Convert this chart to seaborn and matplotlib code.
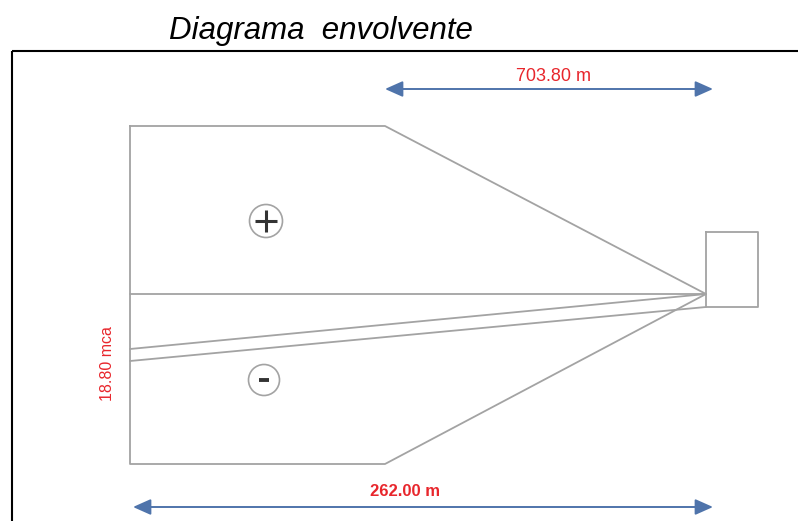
import matplotlib
matplotlib.use("Agg")
import matplotlib.pyplot as plt
from matplotlib.patches import Rectangle, Circle
import seaborn as sns

sns.set_theme(style="white")
plt.rcParams['font.family'] = ['Liberation Sans', 'DejaVu Sans']

# textos / valores del diagrama
title = "Diagrama  envolvente"
len_upper = "703.80 m"
len_lower = "262.00 m"
head_label = "18.80 mca"

# geometria del esquema (coordenadas de dibujo)
env_x = [130, 385, 706, 385, 130, 130]
env_y = [126, 126, 294, 464, 464, 126]
axis_x = [130, 706]
axis_y = [294, 294]
hgl1_x = [130, 706]
hgl1_y = [349, 294]
hgl2_x = [130, 706]
hgl2_y = [361, 307]
tank_x = [706, 758, 758, 706, 706]
tank_y = [232, 232, 307, 307, 232]
upper_arrow_x = [385, 713]
lower_arrow_x = [133, 713]

gray = '#a3a3a3'
blue = '#4f74ab'
red = '#e8262c'

fig = plt.figure(figsize=(7.98, 5.21), dpi=100)
ax = fig.add_axes([0, 0, 1, 1])
ax.set_xlim(0, 798)
ax.set_ylim(521, 0)
ax.axis('off')

# marco
ax.add_patch(Rectangle((12, 51), 820, 520, fill=False, ec='black', lw=1.5))

for xs, ys in [(env_x, env_y), (axis_x, axis_y), (hgl1_x, hgl1_y),
               (hgl2_x, hgl2_y), (tank_x, tank_y)]:
    sns.lineplot(x=xs, y=ys, sort=False, estimator=None, color=gray, lw=1.3, ax=ax)

# signos
ax.add_patch(Circle((266, 221), 16.5, fill=False, ec=gray, lw=1.2))
ax.plot([255, 277], [221, 221], color='#333333', lw=2.2, solid_capstyle='butt')
ax.plot([266, 266], [210, 232], color='#333333', lw=2.2, solid_capstyle='butt')
ax.add_patch(Circle((264, 380), 15.5, fill=False, ec=gray, lw=1.2))
ax.plot([259, 269], [380, 380], color='#333333', lw=2.8, solid_capstyle='butt')

# cotas
arrow = dict(arrowstyle='<|-|>,head_length=0.9,head_width=0.4', color=blue,
             lw=1.4, shrinkA=0, shrinkB=0)
ax.annotate('', xy=(upper_arrow_x[1], 89), xytext=(upper_arrow_x[0], 89), arrowprops=arrow)
ax.annotate('', xy=(lower_arrow_x[1], 507), xytext=(lower_arrow_x[0], 507), arrowprops=arrow)
ax.text(554, 81, len_upper, color=red, fontsize=13, ha='center', va='baseline')
ax.text(405, 496, len_lower, color=red, fontsize=12, fontweight='bold',
        ha='center', va='baseline')
ax.text(107, 364, head_label, color=red, fontsize=11.5, rotation=90,
        ha='center', va='center')

ax.text(321, 39, title, fontsize=22.5, style='italic', ha='center', va='baseline',
        color='black')

fig.savefig('out.png', dpi=100)
